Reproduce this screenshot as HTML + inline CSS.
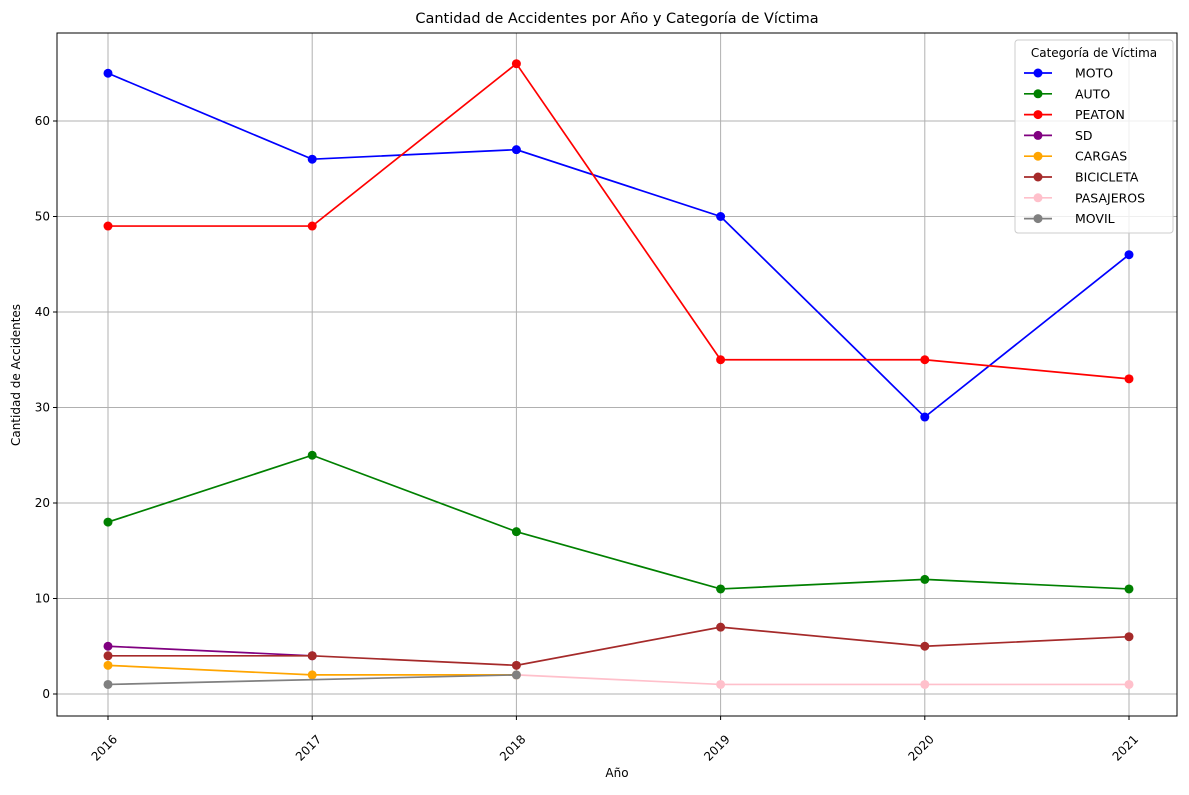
<!DOCTYPE html>
<html><head><meta charset="utf-8"><style>
body{margin:0;background:#fff;font-family:"Liberation Sans","DejaVu Sans",sans-serif}
text{font-family:"DejaVu Sans","Liberation Sans",sans-serif}
</style></head><body>
<svg id="c" width="1189" height="790" xmlns="http://www.w3.org/2000/svg"></svg>
<script>
const years=[2016,2017,2018,2019,2020,2021];
const yTicks=[0,10,20,30,40,50,60];
const seriesNames=["MOTO","AUTO","PEATON","SD","CARGAS","BICICLETA","PASAJEROS","MOVIL"];
const seriesColors=["blue","green","red","purple","orange","brown","pink","gray"];
const moto=[65,56,57,50,29,46];
const auto=[18,25,17,11,12,11];
const peaton=[49,49,66,35,35,33];
const sd=[5,4,null,null,null,null];
const cargas=[3,2,2,null,null,null];
const bicicleta=[4,4,3,7,5,6];
const pasajeros=[null,null,2,1,1,1];
const movil=[1,null,2,null,null,null];
const allSeries=[moto,auto,peaton,sd,cargas,bicicleta,pasajeros,movil];

const svg=document.getElementById('c');const NS="http://www.w3.org/2000/svg";
function el(t,a,p){const e=document.createElementNS(NS,t);for(const k in a)e.setAttribute(k,a[k]);(p||svg).appendChild(e);return e;}
const L=57,R=1177,T=33,B=716;
const X=y=>108+(y-2016)*(1129-108)/5;
const Y=v=>694-v*(694-121)/60;
years.forEach(y=>{const g=el('line',{x1:X(y),x2:X(y),y1:T,y2:B,stroke:'#b0b0b0','stroke-width':1});

el('line',{x1:X(y),x2:X(y),y1:B,y2:B+4,stroke:'#000'});
const t=el('text',{x:X(y)+10,y:B+24,'font-size':12,'text-anchor':'end',transform:`rotate(-45 ${X(y)+10} ${B+24})`});t.textContent=y;
});
yTicks.forEach(v=>{const g=el('line',{x1:L,x2:R,y1:Y(v),y2:Y(v),stroke:'#b0b0b0','stroke-width':1});

el('line',{x1:L-4,x2:L,y1:Y(v),y2:Y(v),stroke:'#000'});
const t=el('text',{x:L-7,y:Y(v)+4,'font-size':12,'text-anchor':'end'});t.textContent=v;
});
allSeries.forEach((s,i)=>{const g=el('g',{});
const pts=[];s.forEach((v,j)=>{if(v!==null)pts.push([X(years[j]),Y(v)]);});
el('polyline',{points:pts.map(p=>p.join(',')).join(' '),fill:'none',stroke:seriesColors[i],'stroke-width':1.7},g);
pts.forEach(p=>{const c=el('circle',{cx:p[0],cy:p[1],r:4.5,fill:seriesColors[i]},g);});});
el('rect',{x:L,y:T,width:R-L,height:B-T,fill:'none',stroke:'#000','stroke-width':1});
let t=el('text',{x:617,y:23,'font-size':14.5,'text-anchor':'middle'});t.textContent="Cantidad de Accidentes por Año y Categoría de Víctima";

t=el('text',{x:617,y:777,'font-size':12,'text-anchor':'middle'});t.textContent="Año";

t=el('text',{x:20,y:375,'font-size':12,'text-anchor':'middle',transform:'rotate(-90 20 375)'});t.textContent="Cantidad de Accidentes";

const lg=el('g',{});
el('rect',{x:1015,y:40,width:158,height:193,rx:3,fill:'#fff','fill-opacity':0.8,stroke:'#ccc'},lg);
t=el('text',{x:1094,y:57,'font-size':12,'text-anchor':'middle'},lg);t.textContent="Categoría de Víctima";
seriesNames.forEach((n,i)=>{const yy=73+i*20.8;const e=el('g',{},lg);
el('line',{x1:1024,x2:1052,y1:yy,y2:yy,stroke:seriesColors[i],'stroke-width':1.7},e);
el('circle',{cx:1038,cy:yy,r:4.5,fill:seriesColors[i]},e);
const tt=el('text',{x:1075,y:yy+4.5,'font-size':12.5},e);tt.textContent=n;});
</script>
</body></html>
